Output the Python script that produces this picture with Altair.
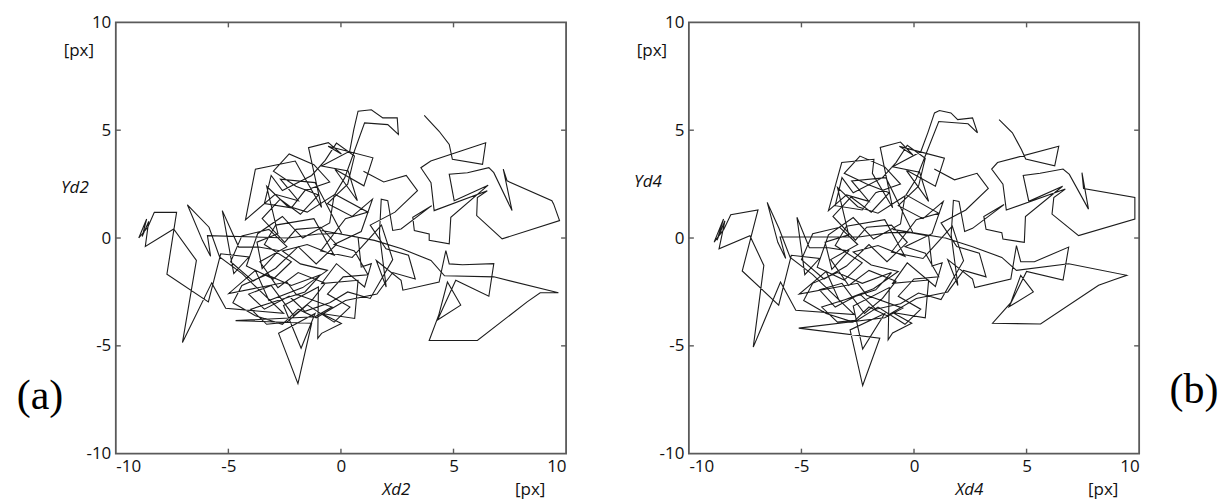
import altair as alt
import pandas as pd

# ---- data ----
xa = [3.70, 4.36, 4.81, 4.95, 6.29, 6.43, 3.99, 3.55, 4.00, 4.14,
      6.50, 6.06, 6.03, 7.16, 9.71, 9.45, 9.37, 7.38, 7.21, 7.60,
      6.79, 6.57, 5.62, 4.81, 5.03, 6.54, 4.88, 4.81, 3.92, 3.92,
      3.26, 3.19, 4.03, 2.67, 2.30, 2.08, 1.79, 1.71, 2.01, 1.57,
      2.67, 2.75, 4.36, 4.66, 4.81, 5.40, 6.79, 6.57, 5.10, 4.29,
      5.32, 4.73, 4.35, 3.92, 6.06, 8.27, 8.85, 9.66, 6.79, 4.60,
      4.00, 2.70, 1.49, -0.86, 0.76, 0.90, 1.35, 1.05, -0.20, -0.86,
      0.76, 0.61, -0.86, 0.02, -0.86, -1.03, -1.00, -2.55, -1.77, -1.15,
      -2.77, -1.91, -1.30, -4.68, -1.15, -0.40, -2.00, -2.40, -4.98, -3.80,
      -3.20, -1.70, -0.60, -1.80, -2.60, -1.50, -0.30, -1.20, -2.90, -3.40,
      -2.20, -3.00, -4.20, -3.70, -2.60, -1.70, -0.50, -0.30, -1.50, -2.40,
      -3.30, -2.80, -3.73, -3.50, -2.77, -3.65, -4.54, -5.27, -4.76, -4.09,
      -5.34, -5.89, -7.73, -7.30, -8.29, -8.58, -8.98, -8.63, -8.83, -8.54,
      -8.69, -7.43, -6.42, -7.04, -5.74, -5.12, -2.55, -4.39, -5.39, -5.86,
      -6.82, -6.15, -5.79, -5.93, -2.33, -1.00, 0.03, -1.15, -2.69, -1.89,
      -2.92, -4.24, -3.80, -2.03, -1.74, -0.86, -1.44, -0.56, 0.02, -0.57,
      1.42, 1.02, -0.27, 0.73, 0.32, -0.86, 0.39, 0.57, 0.76, 1.35,
      1.86, 2.50, 2.55, 2.08, 1.05, 0.17, -0.27, 1.20, 0.20, -0.90,
      0.50, 1.80, 2.30, 1.30, 0.30, -0.50,
      -1.6, -2.3, -3.4, -4.1, -3.1, -2.1, -1.3, -0.7, -1.9, -2.8,
      -3.6, -2.4, -3.2, -4.4, -4.9, -3.9, -2.9, -1.9, -1.1, -0.2,
      -0.9, -2.0, -2.5, -3.5, -2.7, -1.8, -1.0, -2.0, -3.0, -2.3,
      -1.2, -0.5, -1.6, -2.2, -3.4, -3.1, -2.6, -1.3, -0.7, -0.2,
      0.6, 0.3, -0.6, 0.5, 1.4, 0.9, -0.3, 0.6, 1.2, 0.1,
      -0.6, 0.4, -0.3, -1.5, -2.4, -3.3, -4.0, -2.8, -1.6, -0.9,
      -2.2, -3.3, -4.4, -4.8, -3.8, -2.6, -1.9, -1.1, 0.2, 1.6,
      2.3, 3.3, 3.0, 2.0, 1.3, 2.4, 3.4, 2.9, 1.9, 1.0]
ya = [5.69, 4.95, 4.34, 3.65, 3.42, 4.42, 3.57, 3.26, 2.57, 1.27,
      2.19, 1.88, 1.04, -0.04, 0.81, 1.57, 1.73, 2.65, 3.19, 1.27,
      3.03, 3.26, 3.03, 2.96, 1.73, 2.45, 0.96, -0.27, -0.11, 0.19,
      0.35, 0.96, 1.50, 0.42, 0.35, 1.73, 1.80, 0.19, -2.27, -1.04,
      -1.96, -2.42, -2.04, -0.58, -1.20, -1.24, -1.19, -2.70, -1.96, -3.80,
      -3.11, -2.04, -3.55, -4.75, -4.75, -2.96, -2.54, -2.54, -1.80, -1.75,
      -1.04, -0.50, -0.11, 0.35, 0.04, -1.34, -1.19, -2.27, -1.19, -2.11,
      -1.96, -3.73, -3.50, -3.96, -4.42, -4.65, -2.27, -3.13, -5.11, -3.50,
      -4.42, -6.75, -3.95, -3.83, -3.65, -3.20, -2.60, -2.04, -2.57, -1.50,
      -2.90, -2.30, -1.50, -1.20, -0.60, -0.30, -0.80, 0.90, 0.60, -0.30,
      -1.10, -1.90, -1.30, 0.20, 1.00, 0.00, 0.70, 2.00, 1.20, 1.50,
      2.40, 0.20, -0.19, -1.42, -0.58, -0.42, -0.42, 1.27, -1.65, -0.88,
      -0.73, -2.96, -1.68, 1.19, 1.19, 0.50, 0.00, 0.88, 0.07, 0.77,
      -0.39, 0.42, -1.04, -4.85, -2.08, -3.26, -3.49, -1.65, -0.88, 0.50,
      1.54, -0.12, -0.85, 0.11, 0.00, 0.19, 0.22, 2.57, 2.73, 1.73,
      2.03, 0.84, 3.19, 3.57, 3.03, 1.42, 4.19, 4.42, 3.90, 4.26,
      3.72, 2.42, 3.19, 1.73, 3.11, 3.34, 4.03, 5.03, 5.88, 5.95,
      5.57, 5.57, 4.80, 5.26, 5.34, 2.80, 2.03, 1.20, 0.90, -0.60,
      -0.90, 0.60, -1.00, -2.80, -2.50, -3.00,
      -3.4, -2.7, -3.3, -2.6, -2.2, -3.6, -2.9, -2.1, -1.6, -2.3,
      -1.1, -0.4, 0.4, 0.1, -1.1, -2.0, -1.4, -0.4, -1.2, -0.3,
      0.5, 0.4, -0.2, 0.9, 1.8, 1.1, 2.0, 2.4, 3.1, 3.9,
      3.4, 2.6, 2.2, 1.4, 1.6, 2.9, 2.2, 2.9, 3.6, 4.4,
      3.8, 2.5, 1.6, 1.0, 1.8, 0.3, -0.3, -0.6, -1.7, -1.8,
      -2.6, -3.2, -3.9, -3.1, -3.9, -4.0, -3.3, -2.9, -2.5, -1.7,
      -2.2, -1.7, -2.2, -3.0, -3.6, -4.0, -3.3, -3.7, -2.9, -2.6,
      -1.6, -1.9, -0.8, -0.5, 0.6, 1.2, 2.2, 2.9, 2.6, 3.1]

xb = [3.78, 4.37, 4.77, 4.96, 6.25, 6.43, 3.71, 3.45, 3.95, 4.10,
      6.72, 6.21, 6.13, 7.31, 9.81, 9.81, 9.81, 7.53, 7.46, 7.75,
      6.90, 6.62, 5.60, 4.85, 5.10, 6.60, 4.95, 4.90, 3.95, 3.90,
      3.20, 3.10, 4.00, 2.60, 2.25, 2.00, 1.75, 1.65, 1.95, 1.50,
      2.60, 2.70, 4.30, 4.55, 4.74, 5.35, 6.87, 6.62, 5.00, 4.22,
      5.30, 4.74, 4.30, 3.49, 5.62, 8.20, 8.85, 9.45, 6.87, 4.55,
      3.90, 2.60, 1.40, -0.95, 0.65, 0.80, 1.25, 0.95, -0.30, -0.95,
      0.65, 0.50, -0.95, -0.10, -0.95, -1.15, -1.10, -2.70, -2.28, -1.30,
      -2.84, -2.28, -1.52, -5.12, -1.30, -0.50, -2.10, -2.50, -5.10, -3.90,
      -3.30, -1.80, -0.70, -1.90, -2.70, -1.60, -0.40, -1.30, -3.00, -3.50,
      -2.30, -3.10, -4.30, -3.80, -2.70, -1.80, -0.60, -0.40, -1.60, -2.50,
      -3.40, -2.90, -3.95, -3.65, -2.90, -3.80, -4.65, -5.20, -4.85, -4.20,
      -5.45, -6.01, -7.63, -6.93, -8.14, -8.45, -8.88, -8.46, -8.75, -8.40,
      -8.66, -7.29, -6.67, -7.14, -5.93, -5.25, -2.65, -4.50, -5.50, -6.00,
      -6.52, -6.05, -5.70, -5.95, -2.45, -1.10, -0.05, -1.25, -2.77, -2.00,
      -3.00, -3.80, -3.21, -1.78, -1.85, -0.95, -1.50, -0.60, -0.05, -0.65,
      1.35, 0.95, -0.35, 0.65, 0.25, -0.95, 0.30, 0.62, 0.91, 1.13,
      1.64, 1.94, 2.60, 2.82, 2.40, 1.10, 0.10, -0.35, 1.10, 0.10,
      -1.00, 0.40, 1.70, 2.20, 1.20, 0.20, -0.60,
      -1.7, -2.4, -3.5, -4.2, -3.2, -2.2, -1.4, -0.8, -2.0, -2.9,
      -3.7, -2.5, -3.3, -4.5, -5.0, -4.0, -3.0, -2.0, -1.2, -0.3,
      -1.0, -2.1, -2.6, -3.6, -2.8, -1.9, -1.1, -2.1, -3.1, -2.4,
      -1.3, -0.6, -1.7, -2.3, -3.5, -3.2, -2.7, -1.4, -0.8, -0.3,
      0.5, 0.2, -0.7, 0.4, 1.3, 0.8, -0.4, 0.5, 1.1, 0.0,
      -0.7, 0.3, -0.4, -1.6, -2.5, -3.4, -4.1, -2.9, -1.7, -1.0,
      -2.3, -3.4, -4.5, -4.9, -3.9, -2.7, -2.0, -1.2, 0.1, 1.5,
      2.2, 3.2, 2.9, 1.9, 1.2, 2.3, 3.3, 2.8, 1.8, 0.9]
yb = [5.49, 4.88, 4.10, 3.66, 3.35, 4.26, 3.50, 3.20, 2.50, 1.30,
      2.27, 1.88, 1.11, 0.11, 0.88, 1.60, 1.88, 2.30, 3.03, 1.34,
      2.95, 3.20, 3.00, 2.90, 1.70, 2.40, 1.00, -0.20, -0.05, 0.25,
      0.40, 1.00, 1.55, 0.45, 0.30, 1.70, 1.75, 0.15, -2.20, -1.00,
      -1.90, -2.30, -1.90, -0.35, -1.10, -1.10, -0.42, -1.95, -1.55, -3.19,
      -2.50, -1.73, -3.00, -3.95, -3.99, -2.19, -1.95, -1.73, -1.19, -1.50,
      -0.90, -0.40, 0.00, 0.40, 0.10, -1.30, -1.15, -2.25, -1.15, -2.10,
      -1.95, -3.70, -3.45, -3.95, -4.40, -4.72, -2.30, -3.15, -5.15, -3.50,
      -4.26, -6.84, -4.65, -4.18, -3.70, -3.25, -2.65, -2.10, -2.60, -1.55,
      -2.95, -2.35, -1.55, -1.25, -0.65, -0.35, -0.85, 0.85, 0.55, -0.35,
      -1.15, -1.95, -1.35, 0.15, 0.95, -0.05, 0.65, 1.95, 1.15, 1.45,
      2.35, 0.15, -0.19, -1.45, -0.60, -0.45, -0.45, 0.96, -1.70, -0.95,
      -0.80, -3.11, -1.53, 1.30, 1.08, 0.40, -0.19, 0.88, -0.10, 0.80,
      -0.50, 0.11, -1.27, -5.06, -2.04, -3.35, -3.55, -1.70, -0.90, 0.45,
      1.65, -0.20, -0.95, 0.05, 0.05, 0.25, 0.25, 2.80, 2.65, 1.70,
      2.00, 1.27, 3.50, 3.65, 3.00, 1.40, 4.20, 4.45, 3.85, 4.25,
      3.70, 2.40, 3.15, 1.70, 3.05, 3.30, 4.00, 4.90, 5.80, 5.91,
      5.80, 5.49, 5.57, 4.88, 5.30, 5.40, 2.75, 2.00, 1.15, 0.85,
      -0.65, -0.95, 0.55, -1.05, -2.85, -2.55, -3.05,
      -3.3, -2.6, -3.2, -2.4, -2.1, -3.5, -2.8, -2.0, -1.5, -2.2,
      -1.0, -0.3, 0.5, 0.2, -1.0, -1.9, -1.3, -0.3, -1.1, -0.2,
      0.6, 0.5, -0.1, 1.0, 1.9, 1.2, 2.1, 2.5, 3.0, 3.8,
      3.3, 2.5, 2.1, 1.3, 1.5, 2.8, 2.1, 2.8, 3.5, 4.3,
      3.7, 2.4, 1.5, 0.9, 1.7, 0.2, -0.4, -0.7, -1.8, -1.9,
      -2.7, -3.3, -4.0, -3.2, -3.8, -3.9, -3.2, -2.8, -2.4, -1.6,
      -2.1, -1.6, -2.1, -2.9, -3.5, -3.9, -3.2, -3.6, -2.8, -2.5,
      -1.5, -1.8, -0.7, -0.4, 0.7, 1.3, 2.3, 3.0, 2.7, 3.2]

tick_labels = [-10, -5, 0, 5, 10]
inner_ticks = [-5, 0, 5]

W, H = 451, 432
FRAME = "#5a5a5a"
SANS = "Open Sans"
FS = 17


def axis():
    return alt.Axis(values=tick_labels, title=None, ticks=False, tickSize=0,
                    domain=False, grid=False, labelPadding=5, labelFont=SANS,
                    labelFontSize=FS, labelColor="#111111", labelOverlap=False,
                    labelExpr="'' + datum.value")


def txt(s, x, y, **kw):
    return alt.Chart(pd.DataFrame({"s": [s]})).mark_text(**kw).encode(
        text="s:N", x=alt.value(x), y=alt.value(y))


def panel(xs, ys, xname, yname, yname_y, tag, tag_x, tag_y, anchor):
    df = pd.DataFrame({"x": xs, "y": ys, "step": list(range(len(xs)))})
    xsc = alt.Scale(domain=[-10, 10], nice=False, zero=False)
    ysc = alt.Scale(domain=[-10, 10], nice=False, zero=False)
    line = alt.Chart(df).mark_line(color="#1c1c1c", strokeWidth=1.1).encode(
        x=alt.X("x:Q", scale=xsc, axis=axis()),
        y=alt.Y("y:Q", scale=ysc, axis=axis()),
        order="step:Q")
    tx = pd.DataFrame({"x": inner_ticks})
    ty = pd.DataFrame({"y": inner_ticks})
    ts = dict(color=FRAME, strokeWidth=1.4)
    bottom = alt.Chart(tx).mark_rule(**ts).encode(
        x=alt.X("x:Q", scale=xsc, axis=axis()), y=alt.value(H), y2=alt.value(H - 5))
    top = alt.Chart(tx).mark_rule(**ts).encode(
        x=alt.X("x:Q", scale=xsc, axis=axis()), y=alt.value(0), y2=alt.value(5))
    left = alt.Chart(ty).mark_rule(**ts).encode(
        y=alt.Y("y:Q", scale=ysc, axis=axis()), x=alt.value(0), x2=alt.value(5))
    right = alt.Chart(ty).mark_rule(**ts).encode(
        y=alt.Y("y:Q", scale=ysc, axis=axis()), x=alt.value(W), x2=alt.value(W - 5))
    base = dict(font=SANS, fontSize=FS, color="#111111", baseline="middle", align="center")
    texts = [
        txt(xname, 281, 468, fontStyle="italic", **base),
        txt("[px]", 415, 468, **base),
        txt(yname, -41, yname_y, fontStyle="italic", **base),
        txt("[px]", -37, 29, **base),
        txt(tag, tag_x, tag_y, font="Liberation Serif", fontSize=42,
            color="#000000", baseline="middle", align="center"),
    ]
    ax, ay = anchor
    anc = alt.Chart(pd.DataFrame({"a": [0]})).mark_rect(opacity=0).encode(
        x=alt.value(ax), x2=alt.value(ax + 1), y=alt.value(ay), y2=alt.value(ay + 1))
    return alt.layer(line, bottom, top, left, right, *texts, anc).properties(
        width=W, height=H)


pa = panel(xa, ya, "Xd2", "Yd2", 166, "(a)", -76, 374, (-115, -21))
pb = panel(xb, yb, "Xd4", "Yd4", 160, "(b)", 506, 368, (1226 - 689 - 1, 502 - 21 - 1))

chart = alt.hconcat(pa, pb, spacing=123, bounds="flush").properties(
    padding=0
).configure_view(stroke=FRAME, strokeWidth=1.8)

chart.save("out.html", embed_options={"renderer": "svg", "actions": False})
